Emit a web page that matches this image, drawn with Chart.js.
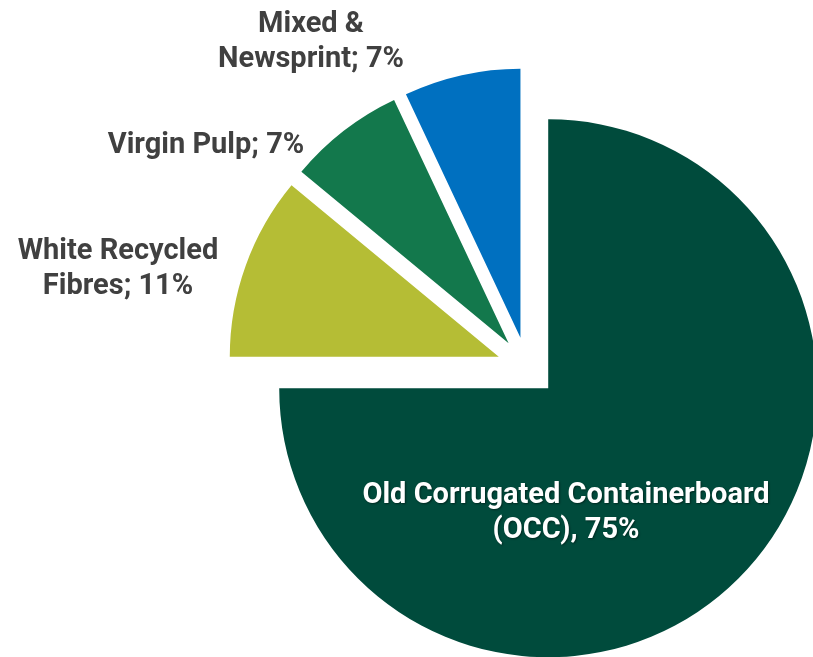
<!DOCTYPE html>
<html>
<head>
<meta charset="utf-8">
<script src="https://cdn.jsdelivr.net/npm/chart.js@4"></script>
<style>
  html, body { margin: 0; padding: 0; background: #fff; overflow: hidden; }
  #wrap { position: relative; width: 813px; height: 657px; }
</style>
</head>
<body>
<div id="wrap"><canvas id="fibre-chart"></canvas></div>
<script>
// fibre sources, share of total (%)
const categories = ['Old Corrugated Containerboard (OCC)', 'White Recycled Fibres', 'Virgin Pulp', 'Mixed & Newsprint'];
const shares = [75, 11, 7, 7];
const sliceColors = ['#004b3c', '#b5bd35', '#13784c', '#0070c0'];

// label text per slice, one entry per line
const labelLines = [
    ['Old Corrugated Containerboard', '(OCC), 75%'],
    ['White Recycled', 'Fibres; 11%'],
    ['Virgin Pulp; 7%'],
    ['Mixed &', 'Newsprint; 7%']
];

// where each label block sits (first baseline), text colour
const labelLayout = [
    { x: 566, y: 503, color: '#ffffff', shadow: true },
    { x: 118, y: 259, color: '#404040' },
    { x: 206, y: 153, color: '#404040' },
    { x: 311, y: 32, color: '#404040' }
];

const EXPLODE = 30;
const LINE_HEIGHT = 35;

// push every slice out from the centre along its own bisector
const explodePlugin = {
    id: 'explode',
    afterDatasetUpdate(chart, args) {
        const meta = chart.getDatasetMeta(args.index);
        meta.data.forEach(arc => {
            const mid = (arc.startAngle + arc.endAngle) / 2;
            arc.x += Math.cos(mid) * EXPLODE;
            arc.y += Math.sin(mid) * EXPLODE;
        });
    }
};

const labelPlugin = {
    id: 'sliceLabels',
    afterDraw(chart) {
        const ctx = chart.ctx;
        ctx.save();
        ctx.font = 'bold 29px Roboto, "Noto Sans", sans-serif';
        ctx.textAlign = 'center';
        ctx.textBaseline = 'alphabetic';
        labelLines.forEach((lines, i) => {
            const pos = labelLayout[i];
            ctx.fillStyle = pos.color;
            if (pos.shadow) {
                ctx.shadowColor = 'rgba(0, 0, 0, 0.45)';
                ctx.shadowOffsetX = 1;
                ctx.shadowOffsetY = 1;
                ctx.shadowBlur = 2;
            } else {
                ctx.shadowColor = 'transparent';
            }
            lines.forEach((line, j) => {
                ctx.fillText(line, pos.x, pos.y + j * LINE_HEIGHT);
            });
        });
        ctx.restore();
    }
};

new Chart(document.getElementById('fibre-chart').getContext('2d'), {
    type: 'pie',
    data: {
        labels: categories,
        datasets: [{
            data: shares,
            backgroundColor: sliceColors,
            borderWidth: 0
        }]
    },
    options: {
        responsive: true,
        maintainAspectRatio: false,
        animation: false,
        layout: { padding: { left: 258, right: 17, top: 98, bottom: 21 } },
        plugins: {
            legend: { display: false },
            tooltip: { enabled: false }
        }
    },
    plugins: [explodePlugin, labelPlugin]
});
</script>
</body>
</html>
